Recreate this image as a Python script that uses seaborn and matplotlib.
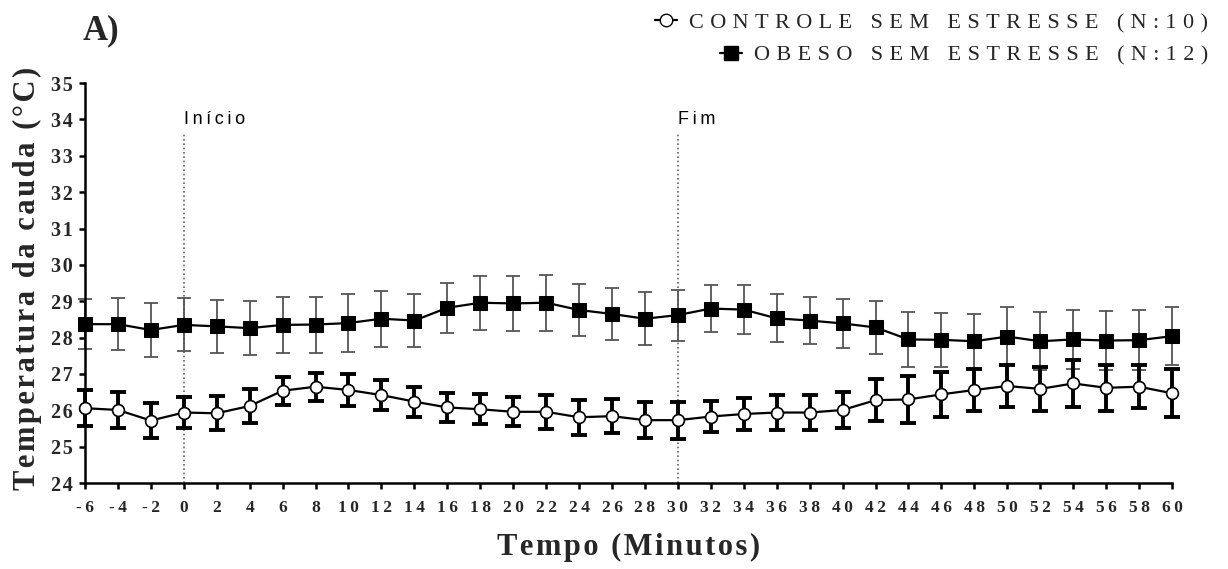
import matplotlib
matplotlib.use("Agg")
import matplotlib.pyplot as plt
from matplotlib.lines import Line2D
import numpy as np
import pandas as pd
import seaborn as sns

# Time points (minutes)
tempo = [-6, -4, -2, 0, 2, 4, 6, 8, 10, 12, 14, 16, 18, 20, 22, 24, 26, 28,
         30, 32, 34, 36, 38, 40, 42, 44, 46, 48, 50, 52, 54, 56, 58, 60]

# Tail temperature, mean and SEM (°C)
controle_media = [26.06, 26.01, 25.72, 25.94, 25.92, 26.12, 26.54, 26.65, 26.56,
                  26.42, 26.24, 26.08, 26.03, 25.96, 25.96, 25.81, 25.84, 25.73,
                  25.73, 25.83, 25.90, 25.94, 25.94, 26.01, 26.28, 26.30, 26.44,
                  26.56, 26.67, 26.59, 26.74, 26.62, 26.65, 26.47]
controle_epm = [0.49, 0.50, 0.49, 0.42, 0.47, 0.47, 0.38, 0.39, 0.45, 0.41, 0.41,
                0.41, 0.41, 0.40, 0.46, 0.48, 0.47, 0.49, 0.51, 0.42, 0.44, 0.48,
                0.48, 0.50, 0.58, 0.64, 0.62, 0.58, 0.58, 0.60, 0.64, 0.64, 0.59,
                0.66]

obeso_media = [28.37, 28.37, 28.21, 28.35, 28.31, 28.26, 28.35, 28.36, 28.40,
               28.52, 28.47, 28.82, 28.96, 28.94, 28.96, 28.76, 28.65, 28.52,
               28.62, 28.80, 28.77, 28.53, 28.47, 28.39, 28.28, 27.95, 27.94,
               27.90, 28.03, 27.90, 27.95, 27.92, 27.93, 28.04]
obeso_epm = [0.68, 0.71, 0.73, 0.73, 0.72, 0.74, 0.77, 0.77, 0.80, 0.77, 0.73,
             0.69, 0.74, 0.76, 0.77, 0.72, 0.72, 0.73, 0.70, 0.64, 0.67, 0.66,
             0.65, 0.68, 0.72, 0.76, 0.75, 0.76, 0.80, 0.80, 0.80, 0.82, 0.83,
             0.80]

grupos = ["CONTROLE SEM ESTRESSE (N:10)", "OBESO SEM ESTRESSE (N:12)"]
y_ticks = list(range(24, 36))
x_ticks = tempo
marcos = {"Início": 0, "Fim": 30}

sns.set_theme(style="white")
SERIF = ["Liberation Serif", "DejaVu Serif"]
SANS = ["Liberation Sans", "DejaVu Sans"]
plt.rcParams["font.family"] = SERIF


def espacar(texto, sep="\u200a"):
    return sep.join(texto)


df = pd.DataFrame({
    "tempo": tempo * 2,
    "temp": controle_media + obeso_media,
    "grupo": [grupos[0]] * len(tempo) + [grupos[1]] * len(tempo),
})

fig = plt.figure(figsize=(12.28, 5.69), dpi=100)
ax = fig.add_axes([0.0692, 0.151, 0.8852, 0.703])

# error bars
ax.errorbar(tempo, obeso_media, yerr=obeso_epm, fmt="none", ecolor="#555555",
            elinewidth=1.3, capsize=5, capthick=1.3, zorder=2, clip_on=False)
ax.errorbar(tempo, controle_media, yerr=controle_epm, fmt="none", ecolor="black",
            elinewidth=2.8, capsize=6, capthick=2.8, zorder=3, clip_on=False)

sns.lineplot(data=df[df.grupo == grupos[1]], x="tempo", y="temp", ax=ax,
             color="black", lw=1.6, marker="s", markersize=10.5,
             markerfacecolor="black", markeredgecolor="black",
             legend=False, zorder=4, clip_on=False)
sns.lineplot(data=df[df.grupo == grupos[0]], x="tempo", y="temp", ax=ax,
             color="black", lw=1.6, marker="o", markersize=8.5,
             markerfacecolor="white", markeredgecolor="black",
             markeredgewidth=1.2, legend=False, zorder=5, clip_on=False)

# start / end markers
for rotulo, xm in marcos.items():
    ax.plot([xm, xm], [24, 33.65], color="#666666", lw=1.2,
            linestyle=(0, (1, 1.6)), zorder=1)
    ax.text(xm, 34.0, espacar(rotulo, "\u2009"), ha="left", va="center",
            fontsize=13, family=SANS, color="black")

ax.set_xlim(-6, 60)
ax.set_ylim(24, 35)
ax.set_xticks(x_ticks)
ax.set_xticklabels([espacar(str(v), "\u2009") for v in x_ticks], fontsize=12.5,
                   fontweight="bold", family=SERIF)
ax.set_yticks(y_ticks)
ax.set_yticklabels([espacar(str(v)) for v in y_ticks], fontsize=14.5,
                   fontweight="bold", family=SERIF)
ax.set_xlabel("")
ax.set_ylabel("")
for s in ["top", "right"]:
    ax.spines[s].set_visible(False)
for s in ["left", "bottom"]:
    ax.spines[s].set_linewidth(1.8)
    ax.spines[s].set_color("black")
ax.tick_params(axis="both", direction="out", length=4.5, width=1.8,
               color="black", left=True, bottom=True)
ax.tick_params(axis="x", pad=8)
ax.tick_params(axis="y", pad=4.5)

fig.text(0.512, 0.037, espacar("Tempo (Minutos)"), ha="center", va="center",
         fontsize=22, fontweight="bold", family=SERIF)
fig.text(0.022, 0.51, espacar("Temperatura da cauda (°C)"), ha="center",
         va="center", rotation=90, fontsize=22, fontweight="bold", family=SERIF)
fig.text(0.067, 0.945, "A)", ha="left", va="center", fontsize=25,
         fontweight="bold", family=SERIF)

# legend, one right-aligned entry per row
h_controle = Line2D([], [], color="black", lw=1.6, marker="o", markersize=9,
                    markerfacecolor="white", markeredgecolor="black")
h_obeso = Line2D([], [], color="black", lw=1.6, marker="s", markersize=10,
                 markerfacecolor="black", markeredgecolor="black")
for h, nome, yy in [(h_controle, grupos[0], 0.9596), (h_obeso, grupos[1], 0.9033)]:
    fig.legend([h], [espacar(nome, "\u2009\u200a")], loc="center right",
               bbox_to_anchor=(0.984, yy), frameon=False, handlelength=1.0,
               handletextpad=0.55, borderaxespad=0, borderpad=0,
               prop={"family": SERIF, "size": 16})

fig.savefig("out.png", dpi=100)
